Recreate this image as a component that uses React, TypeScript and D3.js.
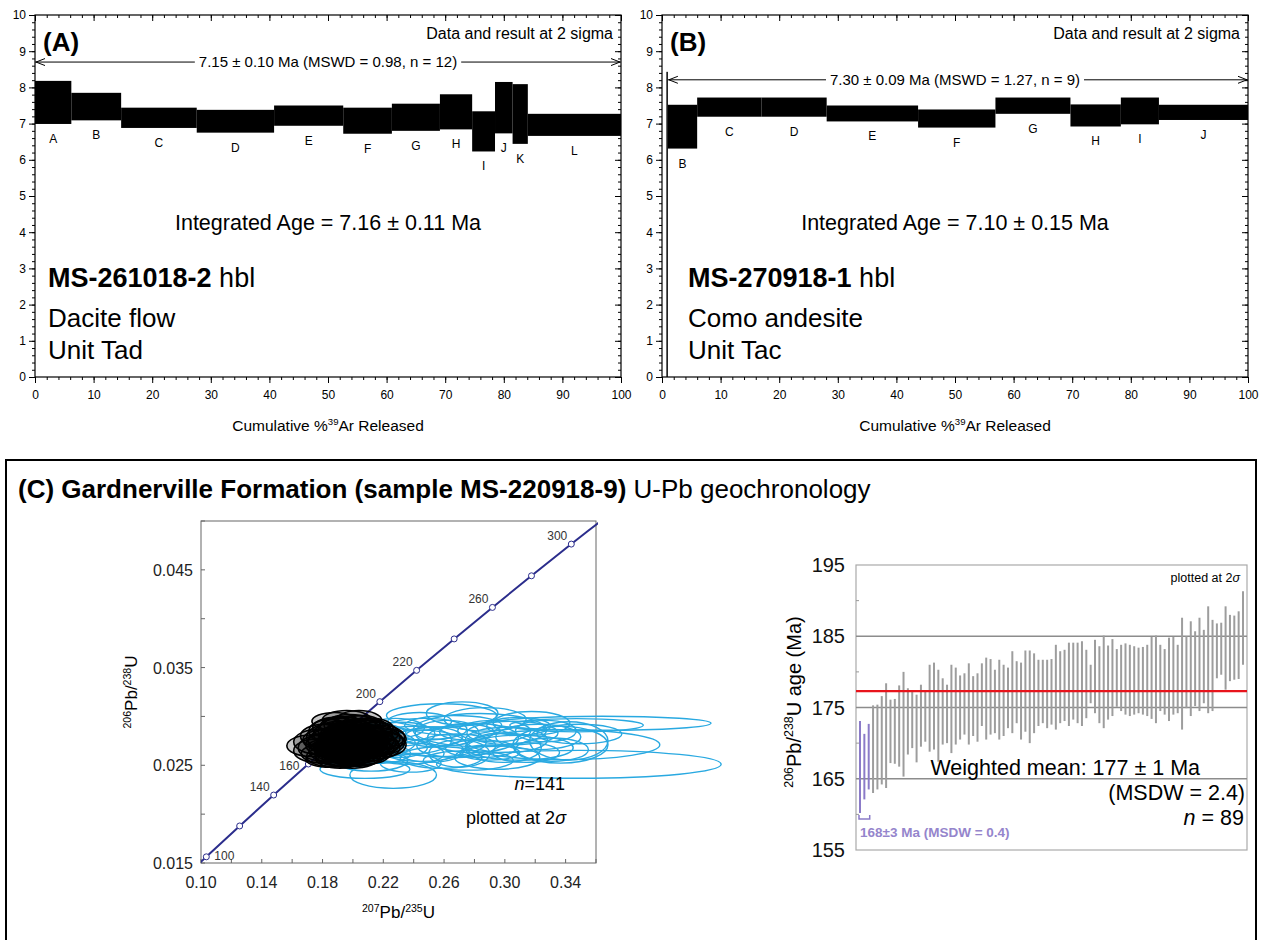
import React, { useEffect, useRef } from "react";
import * as d3 from "d3";

const FONT = "'Liberation Sans', Arial, Helvetica, sans-serif";

// ---- Panel A: MS-261018-2 hbl step heating ----
const stepsALabels = ["A", "B", "C", "D", "E", "F", "G", "H", "I", "J", "K", "L"];
const stepsACum = [0, 6.2, 14.7, 27.6, 40.8, 52.6, 60.9, 69.1, 74.6, 78.5, 81.5, 84.1, 100];
const stepsATop = [8.18, 7.85, 7.44, 7.38, 7.5, 7.44, 7.55, 7.81, 7.34, 8.15, 8.09, 7.27];
const stepsABottom = [6.99, 7.09, 6.88, 6.75, 6.94, 6.72, 6.8, 6.84, 6.23, 6.73, 6.44, 6.66];

// ---- Panel B: MS-270918-1 hbl step heating ----
const stepsBLabels = ["", "B", "C", "D", "E", "F", "G", "H", "I", "J"];
const stepsBCum = [0.75, 1.0, 6.0, 17.0, 28.1, 43.7, 56.9, 69.7, 78.3, 84.8, 100];
const stepsBTop = [8.43, 7.52, 7.72, 7.72, 7.5, 7.39, 7.72, 7.53, 7.72, 7.52];
const stepsBBottom = [-2, 6.31, 7.19, 7.19, 7.06, 6.89, 7.27, 6.92, 6.98, 7.1];

// ---- Concordia ----
const concordiaAges = [90, 100, 120, 140, 160, 180, 200, 220, 240, 260, 280, 300, 320];
const concordiaX = [0.09268, 0.1035, 0.12545, 0.14784, 0.17067, 0.19396, 0.21771, 0.24193, 0.26664, 0.29183, 0.31753, 0.34374, 0.37047];
const concordiaY = [0.014059, 0.015633, 0.018789, 0.021955, 0.025131, 0.028316, 0.031511, 0.034716, 0.037932, 0.041157, 0.044392, 0.047637, 0.050893];
const labelledAges = [100, 140, 160, 200, 220, 260, 300];

// [207Pb/235U, 206Pb/238U, 2s x, 2s y]
const blackEllipses = [
  [0.1725, 0.027, 0.016, 0.0011], [0.176, 0.0265, 0.015, 0.0012], [0.178, 0.0274, 0.017, 0.0013],
  [0.18, 0.0262, 0.014, 0.001], [0.1805, 0.028, 0.015, 0.0012], [0.182, 0.0268, 0.018, 0.0014],
  [0.183, 0.0276, 0.016, 0.0011], [0.1845, 0.0259, 0.015, 0.001], [0.185, 0.0285, 0.014, 0.0012],
  [0.186, 0.0271, 0.017, 0.0013], [0.187, 0.0265, 0.016, 0.0012], [0.1875, 0.0279, 0.018, 0.0014],
  [0.1885, 0.0288, 0.015, 0.0011], [0.189, 0.0261, 0.014, 0.0011], [0.1895, 0.0274, 0.019, 0.0015],
  [0.19, 0.0268, 0.016, 0.0012], [0.191, 0.0282, 0.017, 0.0013], [0.1915, 0.0257, 0.016, 0.001],
  [0.192, 0.0276, 0.015, 0.0012], [0.1925, 0.029, 0.014, 0.001], [0.193, 0.0265, 0.018, 0.0013],
  [0.1935, 0.0272, 0.017, 0.0014], [0.194, 0.028, 0.016, 0.0012], [0.1945, 0.026, 0.015, 0.0011],
  [0.195, 0.0286, 0.018, 0.0013], [0.1955, 0.0269, 0.02, 0.0015], [0.196, 0.0276, 0.015, 0.0011],
  [0.1965, 0.0263, 0.017, 0.0012], [0.197, 0.0282, 0.016, 0.0013], [0.1975, 0.0272, 0.014, 0.001],
  [0.198, 0.0291, 0.017, 0.0011], [0.1985, 0.0266, 0.016, 0.0012], [0.199, 0.0278, 0.019, 0.0014],
  [0.1995, 0.0258, 0.018, 0.0011], [0.2, 0.0284, 0.015, 0.0012], [0.2005, 0.027, 0.017, 0.0013],
  [0.201, 0.0276, 0.016, 0.0011], [0.2015, 0.0263, 0.015, 0.0012], [0.202, 0.0288, 0.017, 0.0013],
  [0.2025, 0.0273, 0.018, 0.0014], [0.203, 0.028, 0.014, 0.0011], [0.2035, 0.0267, 0.016, 0.0012],
  [0.204, 0.026, 0.017, 0.001], [0.2045, 0.0284, 0.015, 0.0013], [0.205, 0.0275, 0.019, 0.0012],
  [0.2055, 0.027, 0.016, 0.0014], [0.206, 0.029, 0.014, 0.0011], [0.2065, 0.0265, 0.017, 0.0012],
  [0.207, 0.0279, 0.016, 0.0013], [0.2075, 0.0272, 0.015, 0.0011], [0.208, 0.0286, 0.017, 0.0012],
  [0.2085, 0.0262, 0.016, 0.0011], [0.209, 0.0276, 0.018, 0.0013], [0.2095, 0.0269, 0.015, 0.0012],
  [0.21, 0.0282, 0.016, 0.0014], [0.211, 0.0273, 0.017, 0.0012], [0.212, 0.0266, 0.015, 0.0011],
  [0.2125, 0.0288, 0.014, 0.001], [0.213, 0.0278, 0.018, 0.0013], [0.214, 0.0271, 0.016, 0.0012],
  [0.215, 0.0283, 0.015, 0.0011], [0.216, 0.0275, 0.017, 0.0013], [0.217, 0.0268, 0.014, 0.0011],
  [0.218, 0.0279, 0.016, 0.0012], [0.219, 0.0273, 0.015, 0.0012], [0.22, 0.0277, 0.015, 0.0011],
  [0.221, 0.0271, 0.014, 0.0012], [0.188, 0.0295, 0.015, 0.0009], [0.196, 0.0297, 0.016, 0.0009],
  [0.204, 0.0296, 0.015, 0.001], [0.185, 0.0256, 0.016, 0.0008], [0.194, 0.0257, 0.017, 0.0008],
  [0.202, 0.0258, 0.016, 0.0009], [0.179, 0.027, 0.008, 0.0006], [0.186, 0.0275, 0.007, 0.0005],
  [0.191, 0.0271, 0.008, 0.0006], [0.195, 0.0277, 0.007, 0.0005], [0.199, 0.0273, 0.008, 0.0006],
  [0.203, 0.0276, 0.007, 0.0005], [0.207, 0.0272, 0.008, 0.0006], [0.192, 0.0267, 0.006, 0.0004],
  [0.2, 0.0268, 0.006, 0.0004], [0.197, 0.028, 0.006, 0.0004], [0.19, 0.0279, 0.006, 0.0004],
  [0.206, 0.028, 0.006, 0.0004], [0.183, 0.027, 0.006, 0.0004], [0.211, 0.0277, 0.006, 0.0004],
  [0.198, 0.0263, 0.005, 0.0003], [0.201, 0.0283, 0.005, 0.0003],
];

const blueEllipses = [
  [0.3487, 0.0251, 0.0937, 0.00143], [0.364, 0.0293, 0.0717, 0.00072], [0.3384, 0.0271, 0.0636, 0.00153],
  [0.3472, 0.0291, 0.0439, 0.00068], [0.3366, 0.0271, 0.0313, 0.00188], [0.2719, 0.0303, 0.0236, 0.00119],
  [0.2583, 0.0301, 0.0362, 0.00119], [0.2265, 0.024, 0.0285, 0.00136], [0.2079, 0.0246, 0.0296, 0.00094],
  [0.2901, 0.0263, 0.0197, 0.00077], [0.3176, 0.0293, 0.0252, 0.0012], [0.2836, 0.0286, 0.0439, 0.0017],
  [0.2561, 0.0274, 0.0318, 0.00153], [0.3099, 0.0268, 0.0351, 0.00128], [0.3421, 0.0275, 0.0258, 0.00196],
  [0.2759, 0.0255, 0.0296, 0.001], [0.232, 0.0282, 0.022, 0.0012], [0.24, 0.0276, 0.025, 0.0014],
  [0.247, 0.0287, 0.028, 0.0011], [0.262, 0.0283, 0.021, 0.0013], [0.268, 0.027, 0.026, 0.0012],
  [0.279, 0.0278, 0.03, 0.0015], [0.293, 0.0285, 0.024, 0.0011], [0.301, 0.0276, 0.027, 0.0013],
  [0.229, 0.0268, 0.02, 0.001], [0.236, 0.0262, 0.024, 0.0011], [0.251, 0.0265, 0.022, 0.0012],
  [0.223, 0.0273, 0.018, 0.0011], [0.216, 0.0262, 0.022, 0.001], [0.212, 0.0255, 0.024, 0.0011],
  [0.284, 0.0267, 0.023, 0.0009], [0.305, 0.0283, 0.03, 0.0012], [0.322, 0.0279, 0.028, 0.0013],
  [0.314, 0.0263, 0.022, 0.001], [0.327, 0.0285, 0.02, 0.0011], [0.266, 0.0291, 0.032, 0.001],
  [0.244, 0.0295, 0.021, 0.0009], [0.287, 0.0297, 0.027, 0.0012], [0.299, 0.0268, 0.025, 0.0015],
  [0.258, 0.0258, 0.027, 0.0011], [0.238, 0.0252, 0.02, 0.0009], [0.331, 0.0266, 0.024, 0.0012],
  [0.275, 0.0284, 0.018, 0.0008], [0.228, 0.0288, 0.019, 0.001], [0.253, 0.0279, 0.019, 0.001],
  [0.309, 0.029, 0.021, 0.0009], [0.349, 0.0282, 0.028, 0.001], [0.219, 0.0282, 0.016, 0.001],
  [0.295, 0.0258, 0.028, 0.0012], [0.27, 0.0262, 0.02, 0.0014], [0.245, 0.027, 0.03, 0.0016],
  [0.2, 0.0268, 0.02, 0.0012],
];

// ---- Weighted mean 206Pb/238U ages (2 sigma tops/bottoms, Ma) ----
const wmTop = [
  173.1, 171.3, 172.7, 175.3, 175.4, 176.6, 178.4, 176.1, 176.2, 178.1, 180.0, 177.7, 177.3, 176.8, 178.2,
  177.3, 181.0, 181.3, 180.3, 179.1, 178.2, 181.0, 180.6, 179.5, 179.8, 181.2, 179.4, 179.8, 181.2, 182.0,
  181.8, 180.3, 181.7, 181.0, 180.6, 182.9, 181.5, 181.3, 183.0, 183.0, 182.6, 181.7, 181.7, 181.7, 181.8,
  183.8, 182.9, 183.1, 184.1, 184.1, 184.1, 184.3, 183.1, 181.0, 184.5, 183.6, 185.1, 183.7, 184.6, 183.2,
  183.8, 184.0, 183.8, 183.6, 183.4, 183.5, 183.8, 184.9, 185.1, 183.8, 183.2, 184.8, 184.9, 183.8, 187.6,
  185.0, 187.1, 185.7, 187.6, 185.9, 189.2, 187.3, 186.8, 186.9, 189.2, 188.0, 187.9, 188.5, 191.3,
];
const wmBottom = [
  160.2, 162.1, 163.5, 163.0, 163.5, 164.2, 163.7, 167.2, 167.1, 166.7, 165.3, 168.4, 169.3, 167.3, 169.5,
  170.2, 168.8, 169.1, 167.4, 169.8, 170.0, 168.6, 169.8, 170.5, 171.2, 169.8, 171.0, 170.2, 172.4, 170.5,
  171.2, 171.4, 170.5, 171.0, 172.1, 171.4, 172.8, 170.5, 171.6, 170.0, 171.4, 172.4, 172.8, 172.1, 172.6,
  171.9, 172.8, 173.1, 172.4, 173.3, 172.8, 172.4, 173.5, 175.6, 174.2, 172.8, 172.1, 173.3, 173.8, 175.1,
  174.5, 174.0, 173.8, 174.0, 174.2, 174.0, 173.8, 173.4, 172.8, 174.5, 174.0, 173.1, 174.0, 174.2, 171.9,
  174.9, 173.8, 175.2, 174.5, 175.6, 174.2, 174.5, 179.1, 179.6, 177.5, 178.7, 178.9, 179.0, 181.0,
];
const youngCount = 3;
const weightedMean = 177.3;
const wmGridlines = [185, 175, 165];
const wmTicks = [195, 185, 175, 165, 155];

type Seg = [string, string?];
function rich(text: any, segs: Seg[], size: number) {
  let raised = false;
  segs.forEach(([s, kind]) => {
    const ts = text.append("tspan").text(s);
    if (kind === "sup") {
      ts.attr("font-size", size * 0.62);
      if (!raised) ts.attr("dy", -size * 0.38);
      raised = true;
    } else {
      if (raised) ts.attr("dy", size * 0.38);
      raised = false;
    }
    if (kind === "b") ts.attr("font-weight", "bold");
    if (kind === "i") ts.attr("font-style", "italic");
  });
}

function styleAxis(sel: any, size = 12) {
  sel.select(".domain").remove();
  sel.selectAll("line").attr("stroke", "#000");
  sel.selectAll("text").attr("font-family", FONT).attr("font-size", size).attr("fill", "#000");
}

function drawSpectrum(svg: any, p: any) {
  const top = 15, bottom = 377;
  const x = d3.scaleLinear().domain([0, 100]).range([p.left, p.right]);
  const y = d3.scaleLinear().domain([0, 10]).range([bottom, top]);
  const g = svg.append("g").attr("font-family", FONT);

  p.tops.forEach((t: number, i: number) => {
    const b = Math.max(p.bottoms[i], 0);
    g.append("rect")
      .attr("x", x(p.cum[i]))
      .attr("width", x(p.cum[i + 1]) - x(p.cum[i]))
      .attr("y", y(t))
      .attr("height", y(b) - y(t))
      .attr("fill", "#000");
    if (p.labels[i]) {
      g.append("text")
        .attr("x", x((p.cum[i] + p.cum[i + 1]) / 2))
        .attr("y", y(p.bottoms[i]) + 19)
        .attr("text-anchor", "middle")
        .attr("font-size", 12)
        .text(p.labels[i]);
    }
  });

  g.append("rect")
    .attr("x", p.left).attr("y", top)
    .attr("width", p.right - p.left).attr("height", bottom - top)
    .attr("fill", "none").attr("stroke", "#000").attr("stroke-width", 1.2);

  const major = d3.range(0, 101, 10);
  const minor = d3.range(0, 101, 2);
  const ymaj = d3.range(0, 11, 1);
  const ymin = d3.range(0, 50.5, 1).map((v) => v / 5);
  const blank = () => "";
  g.append("g").attr("transform", `translate(0,${bottom})`)
    .call(d3.axisBottom(x).tickValues(major).tickSize(6).tickPadding(7)).call(styleAxis);
  g.append("g").attr("transform", `translate(0,${bottom})`)
    .call(d3.axisBottom(x).tickValues(minor).tickSize(3).tickFormat(blank)).call(styleAxis);
  g.append("g").attr("transform", `translate(0,${top})`)
    .call(d3.axisBottom(x).tickValues(major).tickSize(6).tickFormat(blank)).call(styleAxis);
  g.append("g").attr("transform", `translate(0,${top})`)
    .call(d3.axisBottom(x).tickValues(minor).tickSize(3).tickFormat(blank)).call(styleAxis);
  g.append("g").attr("transform", `translate(${p.left},0)`)
    .call(d3.axisLeft(y).tickValues(ymaj).tickSize(6).tickPadding(3)).call(styleAxis);
  g.append("g").attr("transform", `translate(${p.left},0)`)
    .call(d3.axisLeft(y).tickValues(ymin).tickSize(3).tickFormat(blank)).call(styleAxis);
  g.append("g").attr("transform", `translate(${p.right},0)`)
    .call(d3.axisLeft(y).tickValues(ymaj).tickSize(6).tickFormat(blank)).call(styleAxis);
  g.append("g").attr("transform", `translate(${p.right},0)`)
    .call(d3.axisLeft(y).tickValues(ymin).tickSize(3).tickFormat(blank)).call(styleAxis);

  // plateau arrow
  const [p0, p1, pv] = p.plateau;
  const ay = y(pv), ax0 = x(p0), ax1 = x(p1);
  g.append("line").attr("x1", ax0).attr("x2", ax1).attr("y1", ay).attr("y2", ay)
    .attr("stroke", "#000").attr("stroke-width", 1);
  g.append("path").attr("d", `M${ax0 + 10},${ay - 3.5}L${ax0 + 1},${ay}L${ax0 + 10},${ay + 3.5}`)
    .attr("fill", "none").attr("stroke", "#000");
  g.append("path").attr("d", `M${ax1 - 10},${ay - 3.5}L${ax1 - 1},${ay}L${ax1 - 10},${ay + 3.5}`)
    .attr("fill", "none").attr("stroke", "#000");
  const ptxt = g.append("text").attr("x", x(50)).attr("y", ay + 5)
    .attr("text-anchor", "middle").attr("font-size", 15).text(p.plateauText);
  const bb = (ptxt.node() as SVGTextElement).getBBox();
  g.insert("rect", () => ptxt.node())
    .attr("x", bb.x - 4).attr("y", bb.y).attr("width", bb.width + 8).attr("height", bb.height)
    .attr("fill", "#fff");

  g.append("text").attr("x", p.right - 8).attr("y", 39).attr("text-anchor", "end")
    .attr("font-size", 16).text("Data and result at 2 sigma");
  g.append("text").attr("x", p.left + 8).attr("y", 51).attr("font-size", 26)
    .attr("font-weight", "bold").text(p.tag);
  g.append("text").attr("x", x(50)).attr("y", 230).attr("text-anchor", "middle")
    .attr("font-size", 21.5).text(p.integrated);
  rich(g.append("text").attr("x", p.textX).attr("y", 287).attr("font-size", 27),
    [[p.sample, "b"], [" hbl"]], 27);
  g.append("text").attr("x", p.textX).attr("y", 327).attr("font-size", 26).text(p.rock);
  g.append("text").attr("x", p.textX).attr("y", 359).attr("font-size", 26).text(p.unit);
  rich(g.append("text").attr("x", x(50)).attr("y", 431).attr("text-anchor", "middle").attr("font-size", 15.5),
    [["Cumulative %"], ["39", "sup"], ["Ar Released"]], 15.5);
}

function drawConcordia(svg: any) {
  const L = 201, R = 596, T = 521, B = 863;
  const x = d3.scaleLinear().domain([0.1, 0.36]).range([L, R]);
  const y = d3.scaleLinear().domain([0.015, 0.05]).range([B, T]);
  const g = svg.append("g").attr("font-family", FONT);

  g.append("defs").append("clipPath").attr("id", "concClip")
    .append("rect").attr("x", L).attr("y", T - 2).attr("width", R - L + 2).attr("height", B - T + 2);

  g.append("rect").attr("x", L).attr("y", T).attr("width", R - L).attr("height", B - T)
    .attr("fill", "none").attr("stroke", "#666").attr("stroke-width", 1);

  const xt = d3.range(0, 14).map((i) => 0.1 + i * 0.02).filter((v) => v < 0.361);
  xt.forEach((v) => {
    g.append("line").attr("x1", x(v)).attr("x2", x(v)).attr("y1", B).attr("y2", B - 4).attr("stroke", "#666");
  });
  [0.1, 0.14, 0.18, 0.22, 0.26, 0.3, 0.34].forEach((v) => {
    g.append("text").attr("x", x(v)).attr("y", 888).attr("text-anchor", "middle")
      .attr("font-size", 16).attr("fill", "#222").text(v.toFixed(2));
  });
  d3.range(0, 8).map((i) => 0.015 + i * 0.005).forEach((v) => {
    g.append("line").attr("x1", L).attr("x2", L + 4).attr("y1", y(v)).attr("y2", y(v)).attr("stroke", "#666");
  });
  [0.015, 0.025, 0.035, 0.045].forEach((v) => {
    g.append("text").attr("x", 193).attr("y", y(v) + 6).attr("text-anchor", "end")
      .attr("font-size", 16).attr("fill", "#222").text(v.toFixed(3));
  });

  // concordia curve
  const pts = concordiaAges.map((a, i) => [concordiaX[i], concordiaY[i]] as [number, number]);
  g.append("path").attr("clip-path", "url(#concClip)")
    .attr("d", d3.line().x((d) => x(d[0])).y((d) => y(d[1])).curve(d3.curveCatmullRom)(pts))
    .attr("fill", "none").attr("stroke", "#2b2d8c").attr("stroke-width", 2);
  concordiaAges.forEach((a, i) => {
    if (a < 100 || a > 300) return;
    g.append("circle").attr("cx", x(concordiaX[i])).attr("cy", y(concordiaY[i])).attr("r", 3)
      .attr("fill", "#fff").attr("stroke", "#2b2d8c").attr("stroke-width", 1);
  });
  concordiaAges.forEach((a, i) => {
    if (!labelledAges.includes(a)) return;
    const cx = x(concordiaX[i]), cy = y(concordiaY[i]);
    let tx = cx - 4, ty = cy - 4, anchor = "end";
    if (a === 100) { tx = cx + 8; ty = cy + 3; anchor = "start"; }
    if (a === 160) { tx = cx - 9; ty = cy + 6; }
    g.append("text").attr("x", tx).attr("y", ty).attr("text-anchor", anchor)
      .attr("font-size", 12).attr("fill", "#333").text(a);
  });

  const drawEll = (list: number[][], color: string, w: number, fillOp: number) => {
    list.forEach(([cx, cy, rx, ry]) => {
      g.append("ellipse")
        .attr("cx", x(cx)).attr("cy", y(cy))
        .attr("rx", x(cx + rx) - x(cx)).attr("ry", y(cy) - y(cy + ry))
        .attr("fill", color).attr("fill-opacity", fillOp)
        .attr("stroke", color).attr("stroke-width", w);
    });
  };
  drawEll(blueEllipses, "#29a9e1", 1.4, 0);
  drawEll(blackEllipses, "#000", 1.6, 0.22);

  rich(g.append("text").attr("x", 565).attr("y", 790).attr("text-anchor", "end").attr("font-size", 18),
    [["n", "i"], ["=141"]], 18);
  rich(g.append("text").attr("x", 566).attr("y", 824).attr("text-anchor", "end").attr("font-size", 18),
    [["plotted at 2"], ["σ", "i"]], 18);

  rich(g.append("text").attr("x", (L + R) / 2).attr("y", 918).attr("text-anchor", "middle").attr("font-size", 17),
    [["207", "sup"], ["Pb/"], ["235", "sup"], ["U"]], 17);
  rich(g.append("text").attr("transform", `translate(137,${(T + B) / 2}) rotate(-90)`)
    .attr("text-anchor", "middle").attr("font-size", 17),
    [["206", "sup"], ["Pb/"], ["238", "sup"], ["U"]], 17);
}

function drawWeightedMean(svg: any) {
  const L = 856, R = 1247, T = 565, B = 850;
  const x = d3.scaleLinear().domain([1, wmTop.length]).range([860, 1243]);
  const y = d3.scaleLinear().domain([155, 195]).range([B, T]);
  const g = svg.append("g").attr("font-family", FONT);

  g.append("rect").attr("x", L).attr("y", T).attr("width", R - L).attr("height", B - T)
    .attr("fill", "none").attr("stroke", "#aaa").attr("stroke-width", 1.2);
  [190, 180, 170, 160].forEach((v) => {
    g.append("line").attr("x1", L).attr("x2", L + 3).attr("y1", y(v)).attr("y2", y(v)).attr("stroke", "#999");
  });
  wmGridlines.forEach((v) => {
    g.append("line").attr("x1", L).attr("x2", R).attr("y1", y(v)).attr("y2", y(v))
      .attr("stroke", "#8c8c8c").attr("stroke-width", 1.3);
  });
  wmTicks.forEach((v) => {
    g.append("text").attr("x", 845).attr("y", y(v) + 7).attr("text-anchor", "end")
      .attr("font-size", 20).attr("fill", "#111").text(v);
  });

  wmTop.forEach((t, i) => {
    g.append("line").attr("x1", x(i + 1)).attr("x2", x(i + 1))
      .attr("y1", y(t)).attr("y2", y(wmBottom[i]))
      .attr("stroke", i < youngCount ? "#8b7bc8" : "#9d9d9d").attr("stroke-width", 2);
  });

  g.append("line").attr("x1", L).attr("x2", R).attr("y1", y(weightedMean)).attr("y2", y(weightedMean))
    .attr("stroke", "#e8141c").attr("stroke-width", 2.2);

  // young population bracket
  const by = y(d3.min(wmBottom.slice(0, youngCount)) as number) + 6;
  const bx0 = x(1) - 1, bx1 = x(youngCount) + 1;
  g.append("path").attr("d", `M${bx0},${by - 4}L${bx0},${by}L${bx1},${by}L${bx1},${by - 4}`)
    .attr("fill", "none").attr("stroke", "#8b7bc8").attr("stroke-width", 1.5);
  g.append("text").attr("x", 860).attr("y", 837).attr("font-size", 13.5).attr("font-weight", "bold")
    .attr("fill", "#9585cc").text("168±3 Ma (MSDW = 0.4)");

  g.append("text").attr("x", 1240).attr("y", 582).attr("text-anchor", "end").attr("font-size", 12.5)
    .call((t: any) => rich(t, [["plotted at 2"], ["σ", "i"]], 12.5));
  g.append("text").attr("x", 1200).attr("y", 775).attr("text-anchor", "end").attr("font-size", 21.5)
    .text("Weighted mean: 177 ± 1 Ma");
  g.append("text").attr("x", 1245).attr("y", 800).attr("text-anchor", "end").attr("font-size", 21.5)
    .text("(MSDW = 2.4)");
  rich(g.append("text").attr("x", 1244).attr("y", 825).attr("text-anchor", "end").attr("font-size", 21.5),
    [["n", "i"], [" = 89"]], 21.5);

  rich(g.append("text").attr("transform", `translate(801,702) rotate(-90)`)
    .attr("text-anchor", "middle").attr("font-size", 20),
    [["206", "sup"], ["Pb/"], ["238", "sup"], ["U age (Ma)"]], 20);
}

export default function App() {
  const ref = useRef<SVGSVGElement>(null);

  useEffect(() => {
    const svg = d3.select(ref.current);
    svg.selectAll("*").remove();
    svg.append("rect").attr("width", 1262).attr("height", 940).attr("fill", "#fff");

    drawSpectrum(svg, {
      left: 35, right: 621, textX: 48,
      labels: stepsALabels, cum: stepsACum, tops: stepsATop, bottoms: stepsABottom,
      plateau: [0, 100, 8.7],
      plateauText: "7.15 ± 0.10 Ma (MSWD = 0.98, n = 12)",
      tag: "(A)", integrated: "Integrated Age = 7.16 ± 0.11 Ma",
      sample: "MS-261018-2", rock: "Dacite flow", unit: "Unit Tad",
    });
    drawSpectrum(svg, {
      left: 662, right: 1248, textX: 688,
      labels: stepsBLabels, cum: stepsBCum, tops: stepsBTop, bottoms: stepsBBottom,
      plateau: [1.0, 100, 8.21],
      plateauText: "7.30 ± 0.09 Ma (MSWD = 1.27, n = 9)",
      tag: "(B)", integrated: "Integrated Age = 7.10 ± 0.15 Ma",
      sample: "MS-270918-1", rock: "Como andesite", unit: "Unit Tac",
    });

    // panel C frame and title
    svg.append("rect").attr("x", 6).attr("y", 460).attr("width", 1250).attr("height", 540)
      .attr("fill", "none").attr("stroke", "#000").attr("stroke-width", 2);
    rich(svg.append("text").attr("x", 18).attr("y", 498).attr("font-family", FONT).attr("font-size", 26),
      [["(C) Gardnerville Formation (sample MS-220918-9)", "b"], [" U-Pb geochronology"]], 26);

    drawConcordia(svg);
    drawWeightedMean(svg);
  }, []);

  return (
    <svg
      ref={ref}
      width={1262}
      height={940}
      style={{ position: "absolute", left: 0, top: 0, display: "block" }}
    />
  );
}
